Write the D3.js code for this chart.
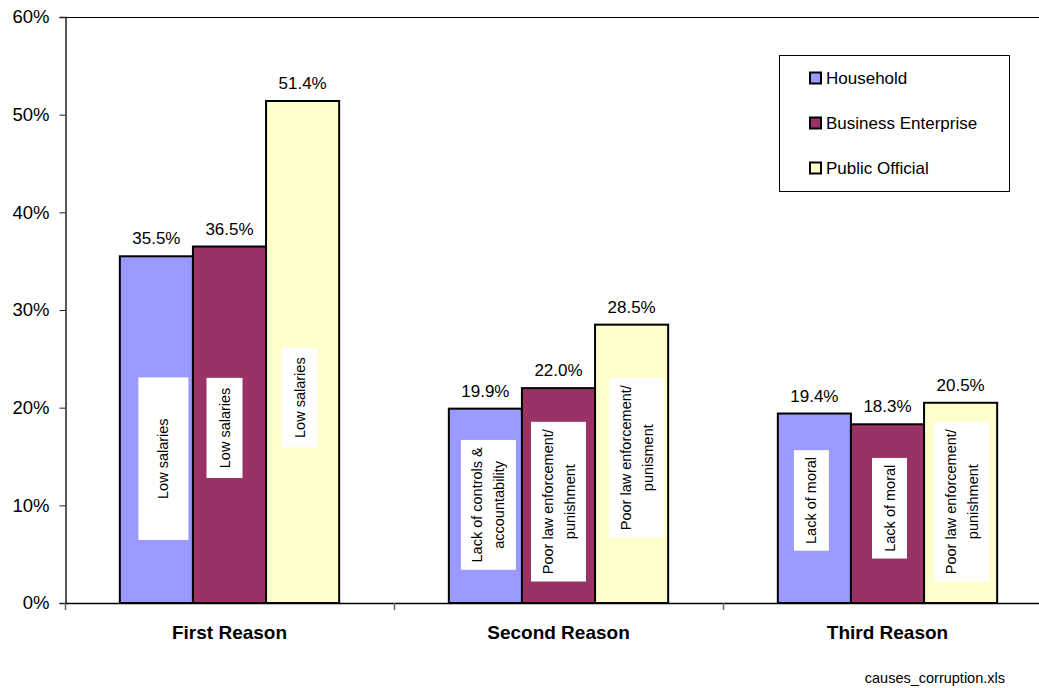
<!DOCTYPE html>
<html>
<head>
<meta charset="utf-8">
<script src="https://cdn.jsdelivr.net/npm/d3@7/dist/d3.min.js"></script>
<style>
  html, body { margin: 0; padding: 0; background: #fff; }
  svg { display: block; font-family: "Liberation Sans", Arial, sans-serif; }
</style>
</head>
<body>
<svg id="chart" width="1039" height="688"></svg>
<script>
// Causes of corruption, by respondent group
const categories = ["First Reason", "Second Reason", "Third Reason"];
const seriesNames = ["Household", "Business Enterprise", "Public Official"];
const household = [35.5, 19.9, 19.4];
const business = [36.5, 22.0, 18.3];
const publicOfficial = [51.4, 28.5, 20.5];
const householdReasons = [["Low salaries"], ["Lack of controls &", "accountability"], ["Lack of moral"]];
const businessReasons = [["Low salaries"], ["Poor law enforcement/", "punishment"], ["Lack of moral"]];
const publicReasons = [["Low salaries"], ["Poor law enforcement/", "punisment"], ["Poor law enforcement/", "punishment"]];
const yTicks = [0, 10, 20, 30, 40, 50, 60];
const sourceNote = "causes_corruption.xls";

const seriesValues = [household, business, publicOfficial];
const seriesReasons = [householdReasons, businessReasons, publicReasons];
const colors = ["#9999FF", "#993366", "#FFFFCC"];

// Layout of the reason call-out boxes: vertical span in axis units (%),
// horizontal shift from the bar centre and box width in pixels.
const noteBoxes = [
  [{ hi: 23.1, lo: 6.45, dx: 7, w: 50 }, { hi: 16.7, lo: 3.4, dx: 3, w: 55 }, { hi: 15.65, lo: 5.35, dx: -3, w: 35 }],
  [{ hi: 23.05, lo: 12.8, dx: -5, w: 36 }, { hi: 18.55, lo: 2.2, dx: 0, w: 55 }, { hi: 14.85, lo: 4.55, dx: 2, w: 35 }],
  [{ hi: 26.1, lo: 15.95, dx: -3, w: 36 }, { hi: 23.05, lo: 6.7, dx: 5, w: 55 }, { hi: 18.55, lo: 2.2, dx: 1, w: 55 }]
];

const svg = d3.select("#chart");
const plot = { left: 65, top: 17, right: 1052, bottom: 603 };

const x0 = d3.scaleBand().domain(categories).range([plot.left, plot.right]).paddingInner(0).paddingOuter(0);
const x1 = d3.scaleBand().domain(d3.range(seriesNames.length)).range([0, x0.bandwidth()]).paddingInner(0).paddingOuter(0.75);
const y = d3.scaleLinear().domain([0, 60]).range([plot.bottom, plot.top]);

// plot frame (top edge)
svg.append("line")
  .attr("x1", plot.left).attr("x2", plot.right)
  .attr("y1", plot.top + 0.5).attr("y2", plot.top + 0.5)
  .attr("stroke", "#000").attr("stroke-width", 1);

// bars
seriesValues.forEach((vals, s) => {
  svg.append("g").selectAll("rect")
    .data(vals)
    .join("rect")
    .attr("x", (d, i) => x0(categories[i]) + x1(s))
    .attr("y", d => y(d))
    .attr("width", x1.bandwidth())
    .attr("height", d => y(0) - y(d))
    .attr("fill", colors[s])
    .attr("stroke", "#000")
    .attr("stroke-width", 2);
});

// value labels
seriesValues.forEach((vals, s) => {
  svg.append("g").selectAll("text")
    .data(vals)
    .join("text")
    .attr("x", (d, i) => x0(categories[i]) + x1(s) + x1.bandwidth() / 2)
    .attr("y", d => y(d) - 12)
    .attr("text-anchor", "middle")
    .attr("font-size", 17)
    .attr("fill", "#000")
    .text(d => d.toFixed(1) + "%");
});

// reason call-outs (white boxes with vertical text)
seriesReasons.forEach((reasons, s) => {
  reasons.forEach((lines, i) => {
    const b = noteBoxes[s][i];
    const cx = x0(categories[i]) + x1(s) + x1.bandwidth() / 2 + b.dx;
    const yTop = y(b.hi), yBot = y(b.lo);
    const cy = (yTop + yBot) / 2;
    svg.append("rect")
      .attr("x", cx - b.w / 2).attr("y", yTop)
      .attr("width", b.w).attr("height", yBot - yTop)
      .attr("fill", "#fff");
    const lineGap = 22;
    const t = svg.append("text")
      .attr("transform", `translate(${cx},${cy}) rotate(-90)`)
      .attr("text-anchor", "middle")
      .attr("font-size", 14.5)
      .attr("fill", "#000");
    lines.forEach((ln, k) => {
      t.append("tspan")
        .attr("x", 0)
        .attr("y", (k - (lines.length - 1) / 2) * lineGap + 5)
        .text(ln);
    });
  });
});

// y axis
const yAxis = d3.axisLeft(y).tickValues(yTicks).tickSize(6).tickPadding(10).tickFormat(d => d + "%");
const gy = svg.append("g").attr("transform", `translate(${plot.left + 0.5},0)`).call(yAxis);
gy.select(".domain").attr("stroke", "#222").attr("stroke-width", 1.5);
gy.selectAll(".tick line").attr("stroke", "#222");
gy.selectAll(".tick text").attr("font-size", 18.5).attr("fill", "#000")
  .attr("font-family", "'Liberation Sans', Arial, sans-serif");

// x axis line and category boundary ticks
svg.append("line")
  .attr("x1", plot.left).attr("x2", plot.right)
  .attr("y1", plot.bottom + 0.5).attr("y2", plot.bottom + 0.5)
  .attr("stroke", "#000").attr("stroke-width", 1.5);
const bounds = categories.map(c => x0(c)).concat([plot.right]);
svg.append("g").selectAll("line")
  .data(bounds)
  .join("line")
  .attr("x1", d => d + 0.5).attr("x2", d => d + 0.5)
  .attr("y1", plot.bottom).attr("y2", plot.bottom + 7)
  .attr("stroke", "#666").attr("stroke-width", 1.5);

// category labels
svg.append("g").selectAll("text")
  .data(categories)
  .join("text")
  .attr("x", d => x0(d) + x0.bandwidth() / 2)
  .attr("y", 639)
  .attr("text-anchor", "middle")
  .attr("font-size", 19)
  .attr("font-weight", "bold")
  .attr("fill", "#000")
  .text(d => d);

// legend
const legend = svg.append("g");
legend.append("rect")
  .attr("x", 779.5).attr("y", 55.5).attr("width", 230).attr("height", 136)
  .attr("fill", "#fff").attr("stroke", "#000").attr("stroke-width", 1);
seriesNames.forEach((name, s) => {
  const cy = 78 + s * 45;
  legend.append("rect")
    .attr("x", 810).attr("y", cy - 5.5).attr("width", 11).attr("height", 11)
    .attr("fill", colors[s]).attr("stroke", "#000").attr("stroke-width", 2);
  legend.append("text")
    .attr("x", 826).attr("y", cy + 6)
    .attr("font-size", 17).attr("fill", "#000")
    .text(name);
});

// source file note
svg.append("text")
  .attr("x", 1005).attr("y", 683)
  .attr("text-anchor", "end")
  .attr("font-size", 14.5)
  .attr("fill", "#000")
  .text(sourceNote);
</script>
</body>
</html>
